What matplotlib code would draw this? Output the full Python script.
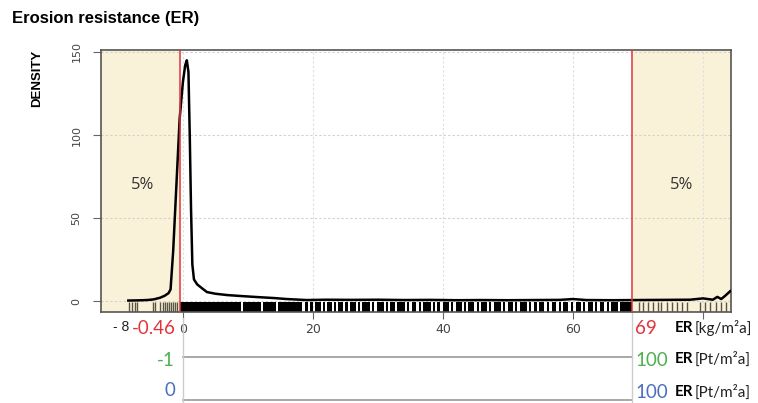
import matplotlib.pyplot as plt
import matplotlib.transforms as mtrans
import numpy as np

# density curve (ER in kg/m2a, density)
er_x = [-8.4, -7.0, -5.5, -4.5, -3.5, -2.8, -2.2, -1.9, -1.5, -1.0, -0.5, 0.0, 0.35, 0.6,
        0.85, 1.05, 1.25, 1.45, 1.7, 2.2, 3.0, 3.7, 5.0, 6.8, 9.0, 11.4, 14.0, 16.0, 19.0,
        22.0, 26.0, 30.0, 34.0, 38.0, 42.0, 46.0, 50.0, 54.0, 58.0, 60.0, 62.0, 66.0,
        70.0, 74.0, 78.0, 80.0, 81.5, 82.2, 82.8, 83.5, 84.2]
density = [0.3, 0.4, 0.6, 1.0, 2.0, 3.2, 4.8, 7.0, 30.0, 70.0, 110.0, 132.0, 142.0, 145.0,
           138.0, 100.0, 55.0, 22.0, 13.0, 10.0, 7.5, 5.4, 4.4, 3.6, 3.0, 2.4, 1.8, 1.2, 0.6,
           0.8, 0.7, 0.8, 0.6, 0.7, 0.5, 0.6, 0.5, 0.6, 0.7, 1.2, 0.6, 0.5,
           0.6, 0.7, 0.8, 1.6, 0.8, 2.5, 1.2, 3.5, 6.0]

# rug: single observations and dense black runs (start, end)
rug_single = [-8.3, -7.8, -7.4, -7.0, -4.6, -4.3, -3.5, -3.1, -2.7, -2.4, -2.1, -1.8,
              -1.5, -1.2, -0.9, 70.2, 70.8, 71.5, 72.3, 73.0, 73.6, 74.5, 75.2, 76.0,
              76.7, 77.5, 79.5, 80.3, 81.0, 82.0, 82.8, 83.5]
rug_runs = [(-0.5, 9.0), (9.3, 12.0), (12.3, 14.3), (14.6, 18.3), (18.8, 19.3), (19.6, 20.0),
            (20.3, 21.2), (21.5, 21.8), (22.1, 22.9), (23.2, 23.5), (23.8, 24.6), (25.0, 25.4),
            (25.7, 26.6), (26.9, 27.2), (27.6, 28.8), (29.1, 29.4), (29.8, 30.9), (31.2, 31.5),
            (31.9, 32.6), (33.0, 34.2), (34.5, 34.8), (35.2, 35.9), (36.3, 36.6), (37.0, 38.1),
            (38.4, 38.7), (39.1, 39.6), (40.0, 40.9), (41.3, 41.6), (42.0, 42.9), (43.2, 43.5),
            (43.9, 44.8), (45.2, 45.5), (45.9, 46.8), (47.1, 47.4), (47.8, 48.9), (49.3, 49.6),
            (50.0, 50.8), (51.1, 51.4), (51.8, 52.9), (53.3, 53.6), (54.0, 54.4), (54.8, 55.6),
            (56.0, 56.3), (56.7, 57.4), (57.8, 58.1), (58.5, 59.3), (59.7, 60.0), (60.4, 61.2),
            (61.6, 61.9), (62.3, 63.0), (63.4, 63.7), (64.1, 64.8), (65.2, 65.5), (65.9, 66.9),
            (67.2, 69.0)]

lower_q = -0.46
upper_q = 69
x_ticks = [0, 20, 40, 60, 80]
x_ticklabels = ['0', '20', '40', '60', '']
y_ticks = [0, 50, 100, 150]

red = '#E0353D'
green = '#4DB050'
blue = '#4A6FBF'
shade = '#FAF2D8'

fig = plt.figure(figsize=(7.58, 4.03), dpi=100)
ax = fig.add_axes([101 / 758, 1 - 312 / 403, 630 / 758, 262 / 403])

xmin, xmax = -12.6, 84.3
ax.set_xlim(xmin, xmax)
ax.set_ylim(-6.6, 151.2)

ax.axvspan(xmin, lower_q, color=shade, zorder=0)
ax.axvspan(upper_q, xmax, color=shade, zorder=0)

for y in y_ticks:
    ax.axhline(y, color='#d0d0d0', lw=0.8, ls=(0, (2, 2)), zorder=1)
for x in x_ticks:
    ax.axvline(x, color='#dedede', lw=0.8, ls=(0, (2, 2)), zorder=1)

ax.plot(er_x, density, color='black', lw=1.8, zorder=3)

rug_tr = mtrans.blended_transform_factory(ax.transData, ax.transAxes)
rug_col = ['#5a5446' if (v < lower_q or v > upper_q) else 'black' for v in rug_single]
ax.vlines(rug_single, 0, 0.04, colors=rug_col, lw=1.0, transform=rug_tr, zorder=2)
ax.broken_barh([(a, b - a) for a, b in rug_runs], (0, 0.04), facecolors='black',
               transform=rug_tr, zorder=2)

ax.axvline(lower_q, color=red, lw=1.1, zorder=4)
ax.axvline(upper_q, color=red, lw=1.1, zorder=4)

ax.text(-6.2, 70, '5%', fontsize=12, family='Open Sans', color='#333333', ha='center', va='center')
ax.text(76.7, 70, '5%', fontsize=12, family='Open Sans', color='#333333', ha='center', va='center')

for s in ax.spines.values():
    s.set_color('#555555')
    s.set_linewidth(1.2)

ax.set_xticks(x_ticks)
ax.set_xticklabels(x_ticklabels, fontsize=9, color='#444444')
ax.set_yticks(y_ticks)
ax.set_yticklabels([str(v) for v in y_ticks], fontsize=8, color='#444444', rotation=90, va='center')
ax.tick_params(axis='x', length=5, color='#666666', pad=3)
ax.tick_params(axis='y', length=6, color='#666666', pad=8)

fig.text(12 / 758, 1 - 18 / 403, 'Erosion resistance (ER)', fontsize=12, fontweight='bold',
         family='Liberation Sans', va='center', ha='left')
fig.text(37 / 758, 1 - 78 / 403, 'DENSITY', fontsize=9.5, fontweight='bold', rotation=90,
         family='Liberation Sans', va='center', ha='center')

# lower scale rows
bt = mtrans.blended_transform_factory(ax.transData, fig.transFigure)
for y_px in [357, 400]:
    ax.plot([0, upper_q], [1 - y_px / 403] * 2, color='#999999', lw=1.2, transform=bt, clip_on=False)
ax.plot([0, 0], [1 - 318 / 403, 0], color='#cccccc', lw=1.0, transform=bt, clip_on=False)
ax.plot([upper_q, upper_q], [1 - 312 / 403, 0], color='#cccccc', lw=1.0, transform=bt, clip_on=False)

ax.text(lower_q - 0.6, 1 - 328 / 403, '-0.46', color=red, fontsize=13.5, family='Lato',
        ha='right', va='center', transform=bt)
ax.text(-8.2, 1 - 327 / 403, '- 8', color='#222222', fontsize=10, family='Liberation Sans',
        ha='right', va='center', transform=bt)
ax.text(-1.2, 1 - 360 / 403, '-1', color=green, fontsize=13.5, family='Lato',
        ha='right', va='center', transform=bt)
ax.text(-1.2, 1 - 391 / 403, '0', color=blue, fontsize=13.5, family='Lato',
        ha='right', va='center', transform=bt)

right_vals = [('69', red, 329, 'kg/m²a'), ('100', green, 360, 'Pt/m²a'), ('100', blue, 393, 'Pt/m²a')]
for val, col, y_px, unit in right_vals:
    ax.text(upper_q + 0.6, 1 - y_px / 403, val, color=col, fontsize=13.5, family='Lato',
            ha='left', va='center', transform=bt)
    fig.text(675 / 758, 1 - (y_px - 1) / 403, 'ER', fontsize=11, fontweight='bold', family='Lato',
             va='center', ha='left')
    fig.text(695 / 758, 1 - (y_px - 1) / 403, '[' + unit + ']', fontsize=11, family='Lato',
             va='center', ha='left', color='#222222')

fig.savefig('out.png', dpi=100)
